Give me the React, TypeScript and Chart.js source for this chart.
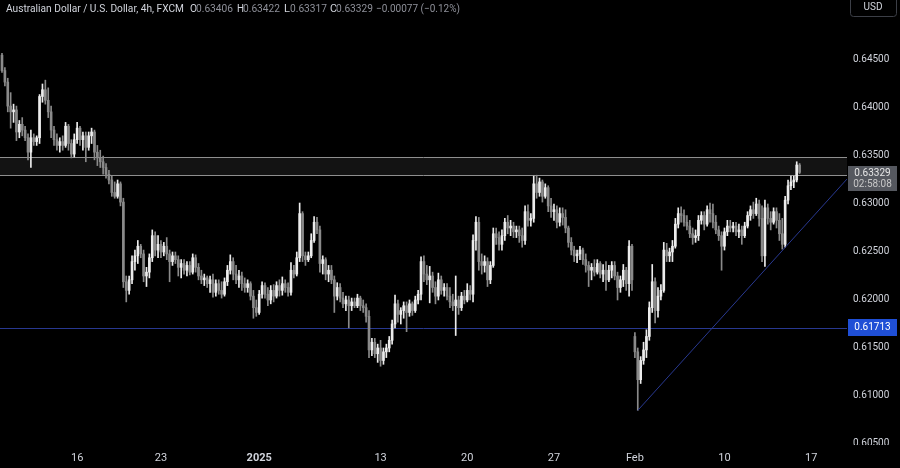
import React, { useEffect, useRef } from 'react';
import { Chart, registerables } from 'chart.js';
Chart.register(...registerables);

// [open, high, low, close] per 4h candle
const ohlc: number[][] = [
[0.6455,0.6457,0.6437,0.6439],[0.6439,0.6442,0.6423,0.6427],[0.6427,0.6431,0.6396,0.6402],[0.6402,0.6416,0.6379,0.6396],[0.6396,0.6404,0.6385,0.6398],
[0.6398,0.6402,0.6366,0.6375],[0.6375,0.6387,0.6369,0.6383],[0.6383,0.6390,0.6371,0.6377],[0.6377,0.6381,0.6366,0.6369],[0.6369,0.6373,0.6346,0.6354],
[0.6354,0.6377,0.6338,0.6369],[0.6369,0.6373,0.6361,0.6365],[0.6365,0.6371,0.6361,0.6369],[0.6369,0.6414,0.6363,0.6412],[0.6412,0.6425,0.6406,0.6419],
[0.6419,0.6429,0.6404,0.6408],[0.6408,0.6421,0.6390,0.6396],[0.6396,0.6402,0.6369,0.6377],[0.6377,0.6381,0.6361,0.6367],[0.6367,0.6373,0.6356,0.6361],
[0.6361,0.6369,0.6354,0.6365],[0.6365,0.6371,0.6356,0.6361],[0.6361,0.6385,0.6359,0.6381],[0.6381,0.6383,0.6356,0.6363],[0.6363,0.6367,0.6348,0.6352],
[0.6352,0.6373,0.6349,0.6367],[0.6367,0.6385,0.6363,0.6379],[0.6379,0.6381,0.6361,0.6367],[0.6367,0.6375,0.6356,0.6371],[0.6371,0.6375,0.6344,0.6359],
[0.6359,0.6375,0.6356,0.6371],[0.6371,0.6379,0.6363,0.6375],[0.6375,0.6377,0.6346,0.6354],[0.6354,0.6361,0.6340,0.6348],[0.6348,0.6356,0.6338,0.6344],
[0.6344,0.6350,0.6331,0.6338],[0.6338,0.6342,0.6327,0.6331],[0.6331,0.6335,0.6321,0.6325],[0.6325,0.6329,0.6308,0.6312],[0.6312,0.6323,0.6306,0.6308],
[0.6308,0.6325,0.6306,0.6321],[0.6321,0.6323,0.6298,0.6302],[0.6302,0.6306,0.6213,0.6219],[0.6219,0.6225,0.6198,0.6210],[0.6210,0.6225,0.6206,0.6221],
[0.6221,0.6246,0.6217,0.6240],[0.6240,0.6252,0.6231,0.6246],[0.6246,0.6262,0.6238,0.6256],[0.6256,0.6258,0.6244,0.6248],[0.6248,0.6252,0.6219,0.6225],
[0.6225,0.6234,0.6214,0.6229],[0.6229,0.6248,0.6223,0.6244],[0.6244,0.6273,0.6240,0.6267],[0.6267,0.6271,0.6246,0.6252],[0.6252,0.6267,0.6244,0.6258],
[0.6258,0.6262,0.6244,0.6250],[0.6250,0.6260,0.6246,0.6256],[0.6256,0.6265,0.6242,0.6248],[0.6248,0.6252,0.6219,0.6240],[0.6240,0.6250,0.6236,0.6246],
[0.6246,0.6250,0.6238,0.6242],[0.6242,0.6246,0.6225,0.6234],[0.6234,0.6242,0.6223,0.6238],[0.6238,0.6242,0.6227,0.6231],[0.6231,0.6240,0.6225,0.6236],
[0.6236,0.6240,0.6226,0.6229],[0.6229,0.6248,0.6227,0.6244],[0.6244,0.6247,0.6229,0.6234],[0.6234,0.6238,0.6221,0.6225],[0.6225,0.6231,0.6217,0.6221],
[0.6221,0.6227,0.6215,0.6223],[0.6223,0.6225,0.6213,0.6217],[0.6217,0.6225,0.6208,0.6221],[0.6221,0.6227,0.6203,0.6208],[0.6208,0.6221,0.6204,0.6217],
[0.6217,0.6221,0.6206,0.6210],[0.6210,0.6219,0.6202,0.6206],[0.6206,0.6223,0.6204,0.6219],[0.6219,0.6236,0.6215,0.6231],[0.6231,0.6247,0.6227,0.6240],
[0.6240,0.6244,0.6221,0.6227],[0.6227,0.6236,0.6217,0.6221],[0.6221,0.6231,0.6213,0.6225],[0.6225,0.6229,0.6210,0.6217],[0.6217,0.6223,0.6208,0.6213],
[0.6213,0.6221,0.6208,0.6217],[0.6217,0.6219,0.6200,0.6204],[0.6204,0.6210,0.6181,0.6192],[0.6192,0.6200,0.6183,0.6187],[0.6187,0.6210,0.6185,0.6206],
[0.6206,0.6219,0.6202,0.6215],[0.6215,0.6218,0.6202,0.6206],[0.6206,0.6213,0.6194,0.6200],[0.6200,0.6215,0.6196,0.6210],[0.6210,0.6216,0.6198,0.6204],
[0.6204,0.6219,0.6202,0.6215],[0.6215,0.6221,0.6204,0.6210],[0.6210,0.6224,0.6205,0.6217],[0.6217,0.6221,0.6208,0.6213],[0.6213,0.6218,0.6204,0.6208],
[0.6208,0.6239,0.6205,0.6231],[0.6231,0.6236,0.6223,0.6227],[0.6227,0.6250,0.6225,0.6244],[0.6244,0.6301,0.6240,0.6290],[0.6290,0.6292,0.6240,0.6246],
[0.6246,0.6250,0.6236,0.6242],[0.6242,0.6250,0.6240,0.6246],[0.6246,0.6269,0.6244,0.6262],[0.6262,0.6287,0.6260,0.6281],[0.6281,0.6286,0.6269,0.6273],
[0.6273,0.6277,0.6229,0.6238],[0.6238,0.6246,0.6227,0.6242],[0.6242,0.6244,0.6221,0.6227],[0.6227,0.6236,0.6219,0.6231],[0.6231,0.6236,0.6217,0.6221],
[0.6221,0.6225,0.6187,0.6204],[0.6204,0.6218,0.6200,0.6213],[0.6213,0.6217,0.6198,0.6202],[0.6202,0.6208,0.6192,0.6196],[0.6196,0.6204,0.6189,0.6200],
[0.6200,0.6204,0.6171,0.6194],[0.6194,0.6202,0.6189,0.6198],[0.6198,0.6202,0.6192,0.6194],[0.6194,0.6206,0.6192,0.6202],[0.6202,0.6204,0.6189,0.6194],
[0.6194,0.6200,0.6187,0.6192],[0.6192,0.6196,0.6177,0.6183],[0.6183,0.6189,0.6140,0.6148],[0.6148,0.6160,0.6142,0.6156],[0.6156,0.6160,0.6140,0.6144],
[0.6144,0.6154,0.6135,0.6150],[0.6150,0.6158,0.6131,0.6137],[0.6137,0.6150,0.6133,0.6146],[0.6146,0.6154,0.6140,0.6150],[0.6150,0.6162,0.6146,0.6158],
[0.6158,0.6179,0.6154,0.6175],[0.6175,0.6205,0.6171,0.6196],[0.6196,0.6200,0.6177,0.6185],[0.6185,0.6192,0.6175,0.6189],[0.6189,0.6198,0.6181,0.6194],
[0.6194,0.6198,0.6167,0.6187],[0.6187,0.6200,0.6183,0.6196],[0.6196,0.6198,0.6184,0.6189],[0.6189,0.6204,0.6187,0.6200],[0.6200,0.6210,0.6196,0.6206],
[0.6206,0.6245,0.6200,0.6240],[0.6240,0.6246,0.6219,0.6227],[0.6227,0.6236,0.6216,0.6221],[0.6221,0.6235,0.6197,0.6225],[0.6225,0.6229,0.6208,0.6213],
[0.6213,0.6219,0.6196,0.6204],[0.6204,0.6228,0.6200,0.6221],[0.6221,0.6225,0.6206,0.6210],[0.6210,0.6217,0.6204,0.6213],[0.6213,0.6217,0.6200,0.6204],
[0.6204,0.6213,0.6192,0.6198],[0.6198,0.6206,0.6189,0.6194],[0.6194,0.6225,0.6163,0.6200],[0.6200,0.6204,0.6185,0.6192],[0.6192,0.6208,0.6189,0.6204],
[0.6204,0.6210,0.6196,0.6200],[0.6200,0.6217,0.6198,0.6210],[0.6210,0.6215,0.6200,0.6206],[0.6206,0.6268,0.6198,0.6262],[0.6262,0.6287,0.6252,0.6281],
[0.6281,0.6286,0.6231,0.6240],[0.6240,0.6248,0.6227,0.6236],[0.6236,0.6246,0.6229,0.6240],[0.6240,0.6244,0.6214,0.6221],[0.6221,0.6240,0.6217,0.6236],
[0.6236,0.6275,0.6234,0.6269],[0.6269,0.6275,0.6258,0.6265],[0.6265,0.6271,0.6252,0.6258],[0.6258,0.6273,0.6252,0.6267],[0.6267,0.6285,0.6262,0.6281],
[0.6281,0.6288,0.6269,0.6275],[0.6275,0.6283,0.6267,0.6277],[0.6277,0.6281,0.6265,0.6271],[0.6271,0.6277,0.6265,0.6273],[0.6273,0.6277,0.6260,0.6267],
[0.6267,0.6275,0.6255,0.6262],[0.6262,0.6298,0.6258,0.6292],[0.6292,0.6299,0.6277,0.6283],[0.6283,0.6290,0.6277,0.6285],[0.6285,0.6329,0.6281,0.6321],
[0.6321,0.6330,0.6306,0.6312],[0.6312,0.6327,0.6308,0.6323],[0.6323,0.6325,0.6302,0.6308],[0.6308,0.6321,0.6306,0.6317],[0.6317,0.6319,0.6292,0.6298],
[0.6298,0.6306,0.6286,0.6292],[0.6292,0.6300,0.6283,0.6294],[0.6294,0.6298,0.6275,0.6281],[0.6281,0.6296,0.6277,0.6290],[0.6290,0.6296,0.6278,0.6286],
[0.6286,0.6294,0.6270,0.6275],[0.6275,0.6277,0.6255,0.6260],[0.6260,0.6265,0.6247,0.6252],[0.6252,0.6256,0.6240,0.6246],[0.6246,0.6252,0.6239,0.6248],
[0.6248,0.6256,0.6242,0.6252],[0.6252,0.6254,0.6237,0.6242],[0.6242,0.6248,0.6229,0.6236],[0.6236,0.6240,0.6214,0.6231],[0.6231,0.6238,0.6221,0.6234],
[0.6234,0.6242,0.6225,0.6229],[0.6229,0.6242,0.6227,0.6238],[0.6238,0.6240,0.6223,0.6227],[0.6227,0.6237,0.6219,0.6231],[0.6231,0.6240,0.6210,0.6221],
[0.6221,0.6236,0.6219,0.6231],[0.6231,0.6240,0.6223,0.6236],[0.6236,0.6240,0.6221,0.6225],[0.6225,0.6229,0.6200,0.6213],[0.6213,0.6225,0.6208,0.6221],
[0.6221,0.6237,0.6214,0.6231],[0.6231,0.6234,0.6210,0.6217],[0.6217,0.6262,0.6204,0.6256],[0.6256,0.6258,0.6210,0.6221],[0.6162,0.6166,0.6140,0.6146],
[0.6146,0.6150,0.6085,0.6117],[0.6117,0.6141,0.6113,0.6137],[0.6137,0.6156,0.6133,0.6148],[0.6148,0.6169,0.6140,0.6162],[0.6162,0.6198,0.6158,0.6192],
[0.6192,0.6237,0.6187,0.6219],[0.6219,0.6223,0.6176,0.6189],[0.6189,0.6213,0.6182,0.6204],[0.6204,0.6216,0.6200,0.6210],[0.6210,0.6260,0.6208,0.6252],
[0.6252,0.6259,0.6240,0.6246],[0.6246,0.6254,0.6240,0.6250],[0.6250,0.6262,0.6240,0.6256],[0.6256,0.6285,0.6254,0.6279],[0.6279,0.6296,0.6275,0.6290],
[0.6290,0.6297,0.6281,0.6288],[0.6288,0.6294,0.6277,0.6281],[0.6281,0.6288,0.6273,0.6277],[0.6277,0.6283,0.6265,0.6269],[0.6269,0.6275,0.6258,0.6265],
[0.6265,0.6273,0.6260,0.6267],[0.6267,0.6288,0.6262,0.6283],[0.6283,0.6292,0.6279,0.6288],[0.6288,0.6292,0.6273,0.6279],[0.6279,0.6298,0.6277,0.6294],
[0.6294,0.6301,0.6281,0.6290],[0.6290,0.6300,0.6275,0.6281],[0.6281,0.6288,0.6269,0.6273],[0.6273,0.6277,0.6262,0.6267],[0.6267,0.6271,0.6231,0.6256],
[0.6256,0.6275,0.6252,0.6271],[0.6271,0.6283,0.6267,0.6277],[0.6277,0.6283,0.6271,0.6275],[0.6275,0.6281,0.6271,0.6277],[0.6277,0.6281,0.6267,0.6271],
[0.6271,0.6279,0.6265,0.6273],[0.6273,0.6277,0.6258,0.6267],[0.6267,0.6281,0.6265,0.6277],[0.6277,0.6292,0.6275,0.6288],[0.6288,0.6298,0.6283,0.6294],
[0.6294,0.6302,0.6285,0.6290],[0.6290,0.6306,0.6288,0.6300],[0.6300,0.6304,0.6277,0.6285],[0.6285,0.6298,0.6240,0.6246],[0.6246,0.6304,0.6235,0.6296],
[0.6296,0.6300,0.6279,0.6285],[0.6285,0.6292,0.6273,0.6281],[0.6281,0.6296,0.6279,0.6292],[0.6292,0.6296,0.6275,0.6283],[0.6283,0.6290,0.6262,0.6269],
[0.6269,0.6285,0.6253,0.6258],[0.6258,0.6308,0.6255,0.6304],[0.6304,0.6325,0.6300,0.6319],[0.6319,0.6329,0.6315,0.6323],[0.6323,0.6329,0.6317,0.6325],
[0.6325,0.6344,0.6323,0.63406],[0.63406,0.63422,0.63317,0.63329],
];

const tickIdx = [26, 55, 89, 131, 161, 191, 219, 250, 280];
const tickLabels = ['16', '23', '2025', '13', '20', '27', 'Feb', '10', '17'];
const priceTicks = [0.605, 0.61, 0.615, 0.62, 0.625, 0.63, 0.635, 0.64, 0.645];
const zoneLevels = [0.633, 0.6349];
const supportLevel = 0.61713;
const trendX = [220, 292.4];
const trendY = [0.6085, 0.6326];
const title = 'Australian Dollar / U.S. Dollar, 4h, FXCM';
const countdown = '02:58:08';

const FONT = "Roboto, 'Noto Sans', sans-serif";
const UP = '#ececec';
const DOWN = '#8a8a8a';
const TEXT = '#d1d4dc';
const NAVY = '#283890';

export default function App() {
  const ref = useRef<HTMLCanvasElement>(null);
  useEffect(() => {
    document.body.style.margin = '0';
    document.body.style.background = '#000';
    const canvas = ref.current!;
    const colors = ohlc.map((c) => (c[3] >= c[0] ? UP : DOWN));
    const last = ohlc[ohlc.length - 1];
    const prevClose = ohlc[ohlc.length - 2][3];

    const overlay = {
      id: 'overlay',
      beforeDraw(chart: any) {
        const { ctx, width, height } = chart;
        ctx.save();
        ctx.fillStyle = '#000';
        ctx.fillRect(0, 0, width, height);
        ctx.restore();
      },
      beforeDatasetsDraw(chart: any) {
        const { ctx, chartArea: a, scales } = chart;
        const y = scales.y;
        const yt = Math.round(y.getPixelForValue(zoneLevels[1])) + 0.5;
        const yb = Math.round(y.getPixelForValue(zoneLevels[0])) + 0.5;
        ctx.save();
        ctx.fillStyle = 'rgba(255,255,255,0.075)';
        ctx.fillRect(a.left, yt, a.right - a.left, yb - yt);
        ctx.strokeStyle = '#8f8f8f';
        ctx.lineWidth = 1;
        for (const py of [yt, yb]) {
          ctx.beginPath();
          ctx.moveTo(a.left, py);
          ctx.lineTo(a.right, py);
          ctx.stroke();
        }
        const ys = Math.round(y.getPixelForValue(supportLevel)) + 0.5;
        ctx.strokeStyle = NAVY;
        ctx.beginPath();
        ctx.moveTo(a.left, ys);
        ctx.lineTo(a.right, ys);
        ctx.stroke();
        ctx.restore();
      },
      afterDraw(chart: any) {
        const { ctx, chartArea: a, scales, width, height } = chart;
        const y = scales.y;
        ctx.save();
        // clip the bottom price label like the reference
        ctx.fillStyle = '#000';
        ctx.fillRect(a.right, a.bottom - 1, width - a.right, height - a.bottom + 1);

        // header
        ctx.textBaseline = 'middle';
        ctx.textAlign = 'left';
        ctx.font = `11px ${FONT}`;
        const hy = 9;
        ctx.fillStyle = TEXT;
        ctx.fillText(title, 6, hy, 178);
        const chg = last[3] - prevClose;
        const pct = (chg / prevClose) * 100;
        const fmt = (v: number) => (v < 0 ? '\u2212' : '+') + Math.abs(v).toFixed(5);
        const parts: [string, number, string, number][] = [
          ['O', 190, TEXT, 7], [last[0].toFixed(5), 196, '#8e9099', 37],
          ['H', 237, TEXT, 7], [last[1].toFixed(5), 243, '#8e9099', 37],
          ['L', 284, TEXT, 7], [last[2].toFixed(5), 290, '#8e9099', 37],
          ['C', 330, TEXT, 7], [last[3].toFixed(5), 336, '#8e9099', 37],
          [`${fmt(chg)} (${pct < 0 ? '\u2212' : '+'}${Math.abs(pct).toFixed(2)}%)`, 376, '#8e9099', 84],
        ];
        for (const [t, x, c, w] of parts) {
          ctx.fillStyle = c;
          ctx.fillText(t, x, hy, w);
        }

        // USD box
        ctx.strokeStyle = '#3c3f47';
        ctx.lineWidth = 1;
        ctx.beginPath();
        (ctx as any).roundRect(850.5, -3.5, 46, 20, 3);
        ctx.stroke();
        ctx.fillStyle = TEXT;
        ctx.textAlign = 'center';
        ctx.font = `10px ${FONT}`;
        ctx.fillText('USD', 873, 7);

        // last price box
        const lp = y.getPixelForValue(last[3]);
        ctx.fillStyle = '#55585f';
        ctx.fillRect(848, Math.round(lp) - 6, 49, 25);
        ctx.fillStyle = '#e6e6e6';
        ctx.font = `10px ${FONT}`;
        ctx.fillText(last[3].toFixed(5), 872.5, lp + 1);
        ctx.fillStyle = '#c8c8c8';
        ctx.fillText(countdown, 872.5, lp + 12.5);

        // support box
        const sp = y.getPixelForValue(supportLevel);
        ctx.fillStyle = '#1f4fd6';
        ctx.fillRect(848, Math.round(sp) - 9, 49, 17);
        ctx.fillStyle = '#ffffff';
        ctx.fillText(supportLevel.toFixed(5), 872.5, sp);
        ctx.restore();
      },
    };

    const chart = new Chart(canvas, {
      type: 'bar',
      data: {
        datasets: [
          {
            type: 'line',
            data: trendX.map((x, i) => ({ x, y: trendY[i] })),
            borderColor: NAVY,
            borderWidth: 1,
            pointRadius: 0,
            order: 0,
          } as any,
          {
            type: 'bar',
            data: ohlc.map((c, i) => ({ x: i, y: [Math.min(c[0], c[3]), Math.max(c[0], c[3])] })),
            backgroundColor: colors,
            barThickness: 2,
            minBarLength: 1,
            grouped: false,
            order: 1,
          } as any,
          {
            type: 'bar',
            data: ohlc.map((c, i) => ({ x: i, y: [c[2], c[1]] })),
            backgroundColor: colors,
            barThickness: 1,
            grouped: false,
            order: 2,
          } as any,
        ],
      },
      options: {
        responsive: false,
        animation: false,
        devicePixelRatio: 1,
        events: [],
        layout: { padding: 0 },
        plugins: { legend: { display: false }, tooltip: { enabled: false } },
        scales: {
          x: {
            type: 'linear',
            min: -0.69,
            max: 292.4,
            offset: false,
            grid: { display: false, drawTicks: false },
            border: { display: false },
            ticks: {
              color: TEXT,
              padding: 6,
              autoSkip: false,
              maxRotation: 0,
              includeBounds: false,
              font: (ctx: any) => ({
                family: FONT,
                size: 11,
                weight: tickLabels[ctx.index] === '2025' ? 'bold' : 'normal',
              }),
              callback: (_v: any, i: number) => tickLabels[i],
            },
            afterBuildTicks: (s: any) => {
              s.ticks = tickIdx.map((value) => ({ value }));
            },
            afterFit: (s: any) => {
              s.height = 22;
              s.paddingLeft = 0;
              s.paddingRight = 0;
            },
          },
          y: {
            type: 'linear',
            position: 'right',
            min: 0.60479,
            max: 0.65125,
            grid: { display: false, drawTicks: false },
            border: { display: false },
            ticks: {
              color: TEXT,
              padding: 6,
              includeBounds: false,
              font: { family: FONT, size: 10 },
              callback: (v: any) => Number(v).toFixed(5),
            },
            afterBuildTicks: (s: any) => {
              s.ticks = priceTicks.map((value) => ({ value }));
            },
            afterFit: (s: any) => {
              s.width = 53;
              s.paddingTop = 0;
              s.paddingBottom = 0;
            },
          },
        },
      } as any,
      plugins: [overlay],
    });
    return () => chart.destroy();
  }, []);

  return (
    <div style={{ position: 'absolute', left: 0, top: 0, width: 900, height: 468, background: '#000' }}>
      <canvas ref={ref} width={900} height={468} style={{ display: 'block' }} />
    </div>
  );
}
